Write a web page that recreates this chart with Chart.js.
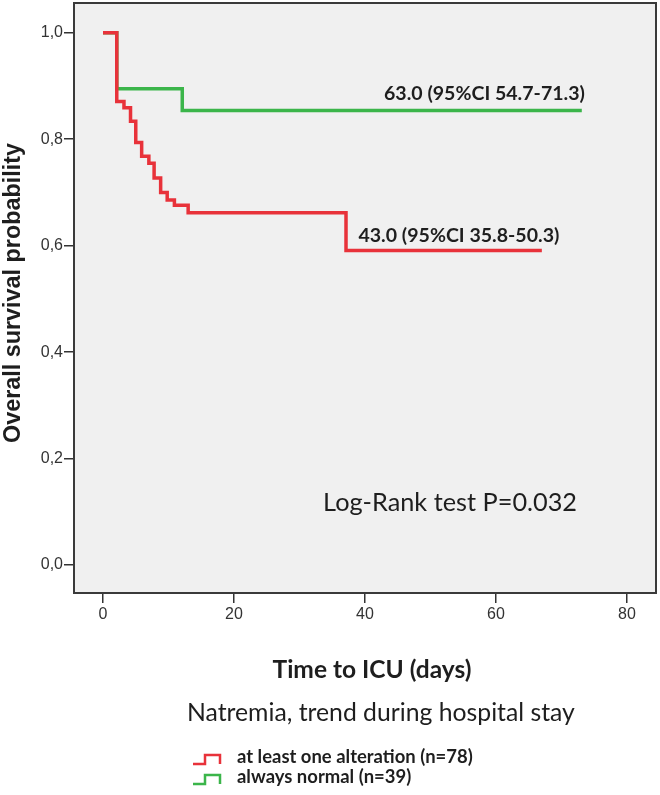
<!DOCTYPE html>
<html>
<head>
<meta charset="utf-8">
<script src="https://cdn.jsdelivr.net/npm/chart.js@4.4.1/dist/chart.umd.min.js"></script>
<style>
  html, body { margin: 0; padding: 0; background: #fff; }
  #wrap { position: relative; width: 660px; height: 795px; }
</style>
</head>
<body>
<div id="wrap"><canvas id="kmChart"></canvas></div>
<script>
// Kaplan-Meier steps
const redTimes = [0, 2.1, 3.2, 4.2, 5.0, 5.9, 7.0, 7.8, 8.8, 9.8, 10.9, 13.0, 37.1, 67.0];
const redSurv = [1.0, 0.871, 0.859, 0.834, 0.794, 0.768, 0.755, 0.727, 0.700, 0.686, 0.676, 0.662, 0.591, 0.591];
const greenTimes = [0, 2.1, 12.1, 73.1];
const greenSurv = [1.0, 0.895, 0.854, 0.854];

const yTicks = [0, 0.2, 0.4, 0.6, 0.8, 1.0];
const xTicks = [0, 20, 40, 60, 80];

const groupLabels = ["at least one alteration (n=78)", "always normal (n=39)"];
const medianLabels = ["43.0 (95%CI 35.8-50.3)", "63.0 (95%CI 54.7-71.3)"];
const testLabel = "Log-Rank test P=0.032";
const legendTitle = "Natremia, trend during hospital stay";
const xTitle = "Time to ICU (days)";
const yTitle = "Overall survival probability";

const RED = "#e8323a";
const GREEN = "#3bb54a";
const TEXT = "#1e1e1e";

const toPoints = (xs, ys) => xs.map((t, i) => ({ x: t, y: ys[i] }));

// pick a font size so that text fills the given width
const fitFont = (ctx, text, weight, family, width) => {
  ctx.font = `${weight} 20px ${family}`;
  const size = 20 * width / ctx.measureText(text).width;
  return `${weight} ${size.toFixed(2)}px ${family}`;
};

const decor = {
  id: "decor",
  beforeDraw(chart) {
    const { ctx, chartArea: a } = chart;
    ctx.save();
    ctx.fillStyle = "#f0f0f0";
    ctx.fillRect(a.left, a.top, a.right - a.left, a.bottom - a.top);
    ctx.restore();
  },
  afterDraw(chart) {
    const { ctx, chartArea: a, scales } = chart;
    const sx = scales.x, sy = scales.y;
    ctx.save();

    // frame
    ctx.strokeStyle = "#3a3a3a";
    ctx.lineWidth = 2;
    ctx.strokeRect(a.left, a.top, a.right - a.left, a.bottom - a.top);

    ctx.fillStyle = TEXT;
    ctx.textBaseline = "alphabetic";

    // median annotations and test result, anchored in data units
    ctx.textAlign = "left";
    ctx.font = fitFont(ctx, medianLabels[1], "bold", "Lato", 201);
    ctx.fillText(medianLabels[1], sx.getPixelForValue(42.9), sy.getPixelForValue(0.873));
    ctx.font = fitFont(ctx, medianLabels[0], "bold", "Lato", 201);
    ctx.fillText(medianLabels[0], sx.getPixelForValue(39.0), sy.getPixelForValue(0.607));
    ctx.font = fitFont(ctx, testLabel, "normal", "Lato", 254);
    ctx.fillText(testLabel, sx.getPixelForValue(33.6), sy.getPixelForValue(0.102));

    // y title
    ctx.save();
    ctx.translate(14, 293);
    ctx.rotate(-Math.PI / 2);
    ctx.textAlign = "center";
    ctx.textBaseline = "middle";
    ctx.font = fitFont(ctx, yTitle, "bold", "'Liberation Sans', Arial", 300);
    ctx.fillText(yTitle, 0, 0);
    ctx.restore();

    // x title
    ctx.textAlign = "center";
    ctx.font = fitFont(ctx, xTitle, "bold", "Lato", 199);
    ctx.fillText(xTitle, 372, 678);

    // legend
    ctx.textAlign = "left";
    ctx.font = fitFont(ctx, legendTitle, "normal", "Lato", 388);
    ctx.fillText(legendTitle, 187, 721);

    const itemFont = fitFont(ctx, groupLabels[0], "bold", "Lato", 236);
    const rows = [
      { y: 764, color: RED, label: groupLabels[0] },
      { y: 784, color: GREEN, label: groupLabels[1] },
    ];
    rows.forEach((r) => {
      ctx.strokeStyle = r.color;
      ctx.lineWidth = 2.5;
      ctx.beginPath();
      ctx.moveTo(193, r.y);
      ctx.lineTo(205, r.y);
      ctx.lineTo(205, r.y - 9);
      ctx.lineTo(220, r.y - 9);
      ctx.lineTo(220, r.y);
      ctx.stroke();
      ctx.fillStyle = TEXT;
      ctx.font = itemFont;
      ctx.fillText(r.label, 237, r.y - 1);
    });

    ctx.restore();
  },
};

const tickGrid = { drawOnChartArea: false, drawTicks: true, tickLength: 10, color: "#333", lineWidth: 1.5 };
const tickFont = { family: "'Liberation Sans', Arial", size: 16 };

new Chart(document.getElementById("kmChart"), {
  type: "line",
  data: {
    datasets: [
      {
        label: groupLabels[0],
        data: toPoints(redTimes, redSurv),
        borderColor: RED,
        borderWidth: 3.5,
        stepped: "before",
        pointRadius: 0,
        fill: false,
      },
      {
        label: groupLabels[1],
        data: toPoints(greenTimes, greenSurv),
        borderColor: GREEN,
        borderWidth: 3.5,
        stepped: "before",
        pointRadius: 0,
        fill: false,
      },
    ],
  },
  options: {
    responsive: true,
    maintainAspectRatio: false,
    animation: false,
    layout: { padding: { top: 3, right: 4, left: 0, bottom: 0 } },
    plugins: { legend: { display: false }, tooltip: { enabled: false } },
    scales: {
      x: {
        type: "linear",
        min: -4.43,
        max: 84.43,
        afterBuildTicks: (s) => { s.ticks = xTicks.map((v) => ({ value: v })); },
        afterFit: (s) => { s.height = 202; s.paddingLeft = 0; s.paddingRight = 0; },
        grid: tickGrid,
        border: { display: false },
        ticks: { color: "#333", font: tickFont, padding: 2, maxRotation: 0 },
      },
      y: {
        type: "linear",
        min: -0.0526,
        max: 1.056,
        afterBuildTicks: (s) => { s.ticks = yTicks.map((v) => ({ value: v })); },
        afterFit: (s) => { s.width = 74; s.paddingTop = 0; s.paddingBottom = 0; },
        grid: tickGrid,
        border: { display: false },
        ticks: {
          color: "#333",
          font: tickFont,
          padding: 1,
          callback: (v) => v.toFixed(1).replace(".", ","),
        },
      },
    },
  },
  plugins: [decor],
});
</script>
</body>
</html>
